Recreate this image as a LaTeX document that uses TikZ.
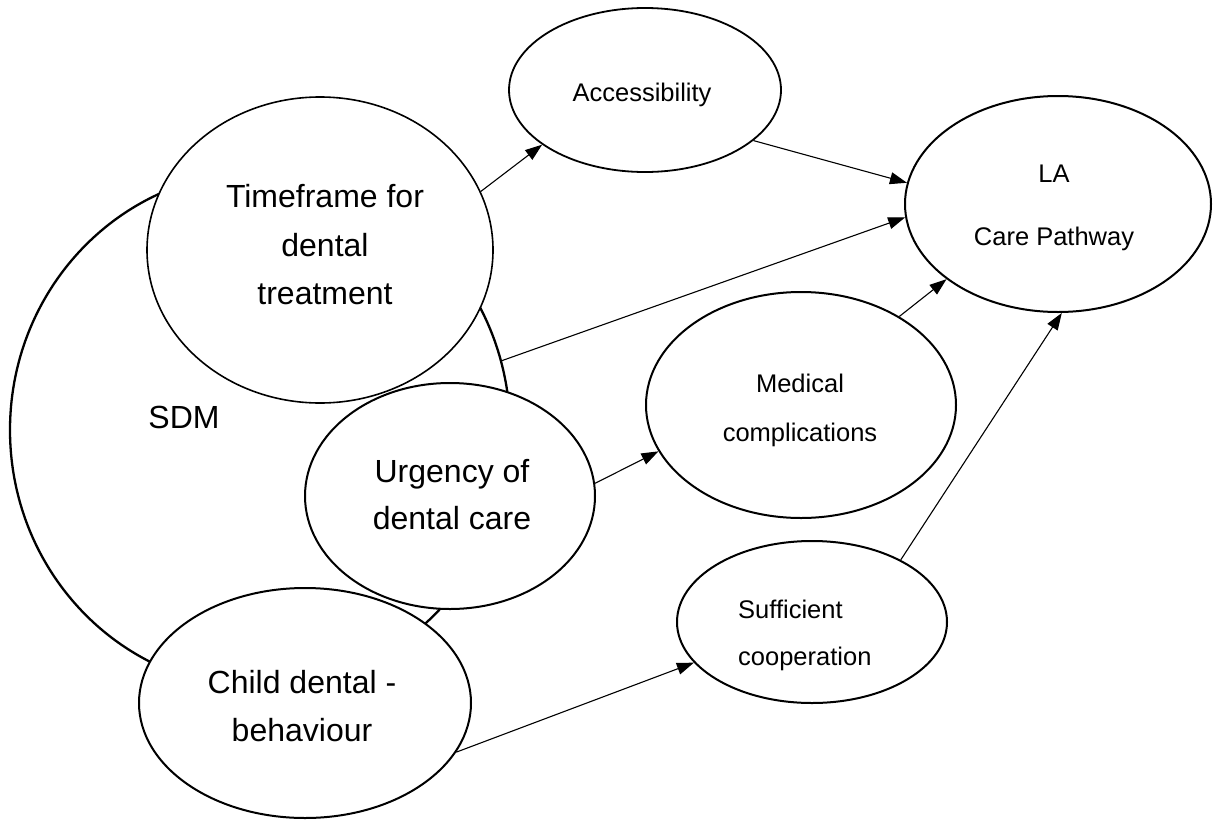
\documentclass[tikz,border=0pt]{standalone}
\usepackage{fontspec}
\setmainfont{Liberation Sans}
\usetikzlibrary{shapes.geometric,arrows.meta}
\begin{document}
\begin{tikzpicture}[x=1pt,y=-1pt,
  ell/.style={draw,ellipse,fill=white,inner sep=0pt,line width=2pt},
  big/.style={font=\fontsize{32}{48}\selectfont,align=center,inner sep=0pt},
  small/.style={font=\fontsize{25.5}{49}\selectfont,align=center,inner sep=0pt},
  conn/.style={-{Triangle[length=17pt,width=12pt]},line width=1.1pt}]
\useasboundingbox (0,0) rectangle (1213,822);
% SDM background ellipse
\node[ell,line width=2.3pt,minimum width=500pt,minimum height=516pt] (sdm) at (260,430) {};
\node[big] (sdmt) at (184,417) {SDM};
% ellipses
\node[ell,line width=1.6pt,minimum width=346pt,minimum height=306pt] (tf) at (320,250) {};
\node[big,font=\fontsize{32}{48.5}\selectfont] (tft) at (325,245) {Timeframe for\\dental\\treatment};
\node[ell,line width=1.8pt,minimum width=272pt,minimum height=164pt] (acc) at (645,90) {};
\node[small] (acct) at (642,95) {Accessibility};
\node[ell,minimum width=306pt,minimum height=216pt] (la) at (1058,204) {};
\node[small,font=\fontsize{25.5}{63.5}\selectfont] (lat) at (1054,208) {LA\\Care Pathway};
\node[ell,minimum width=310pt,minimum height=226pt] (med) at (801,405) {};
\node[small] (medt) at (800,410) {Medical\\complications};
\node[ell,minimum width=290pt,minimum height=226pt] (urg) at (450,496) {};
\node[big,font=\fontsize{32}{47}\selectfont] (urgt) at (452,495) {Urgency of\\dental care};
\node[ell,minimum width=270pt,minimum height=162pt] (suf) at (812,622) {};
\node[small,align=left,anchor=west,font=\fontsize{25.5}{47}\selectfont] (suft) at (738,635) {Sufficient\\cooperation};
\node[ell,minimum width=332pt,minimum height=230pt] (child) at (305,703) {};
\node[big] (childt) at (302,706) {Child dental -\\behaviour};
% connectors
\draw[conn] (tf.20) -- (acc.208);
\draw[conn] (acc.-25) -- (la.172);
\draw[conn] (sdm.16) -- (la.185);
\draw[conn] (med.42) -- (la.214);
\draw[conn] (suf.35.5) -- (la.272);
\draw[conn] (urg.5.5) -- (med.198);
\draw[conn] (child.-18) -- (suf.199);
\end{tikzpicture}
\end{document}
